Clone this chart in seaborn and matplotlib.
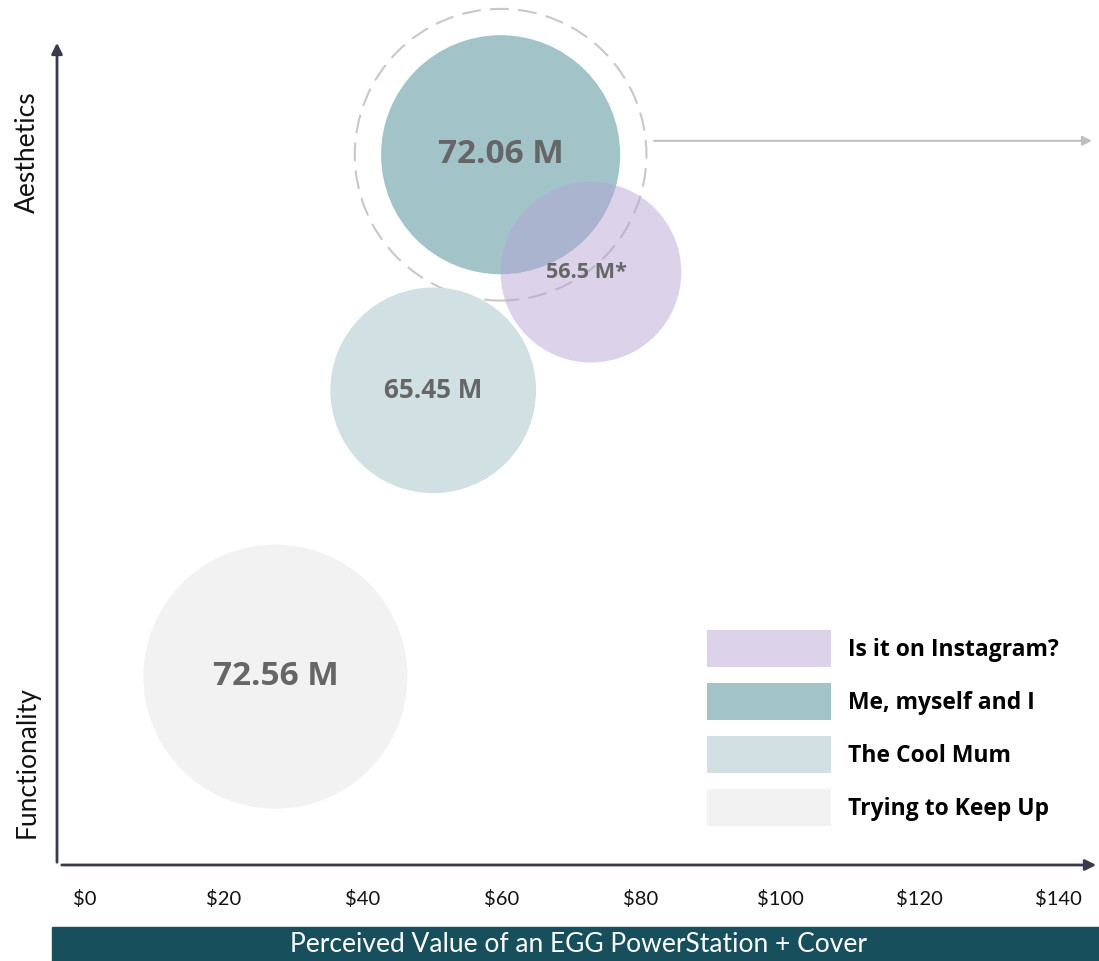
import numpy as np
import pandas as pd
import matplotlib.pyplot as plt
import seaborn as sns
from matplotlib.patches import Patch, Rectangle, Circle

# chart data (drawing order: back to front)
segments = ["Trying to Keep Up", "The Cool Mum", "Me, myself and I", "Is it on Instagram?"]
perceived_value = [27.4, 50.1, 59.8, 72.8]       # $ on the x axis
aesthetics_score = [27.1, 68.3, 102.2, 85.3]     # position between Functionality (low) and Aesthetics (high)
bubble_radius = [19.0, 14.8, 17.2, 13.0]         # bubble radius in axis units
population_labels = ["72.56 M", "65.45 M", "72.06 M", "56.5 M*"]

legend_order = ["Is it on Instagram?", "Me, myself and I", "The Cool Mum", "Trying to Keep Up"]
tick_values = [0, 20, 40, 60, 80, 100, 120, 140]
tick_labels = ["\\$0", "\\$20", "\\$40", "\\$60", "\\$80", "\\$100", "\\$120", "\\$140"]

colors = {
    "Trying to Keep Up": "#F2F2F2",
    "The Cool Mum": "#D0E0E3",
    "Me, myself and I": "#A2C4C9",
    "Is it on Instagram?": "#B6A3D5",
}
legend_colors = {
    "Trying to Keep Up": "#F2F2F2",
    "The Cool Mum": "#D0E0E3",
    "Me, myself and I": "#A2C4C9",
    "Is it on Instagram?": "#DCD3EB",
}
label_sizes = [24, 18.7, 24, 15.6]
label_dx = [0, 0, 0, -0.7]

sns.set_style("white")
plt.rcParams['font.family'] = ['Lato', 'DejaVu Sans']
bold_font = ['Open Sans', 'DejaVu Sans']

W, H, DPI = 1099, 961, 100
fig = plt.figure(figsize=(W / DPI, H / DPI), dpi=DPI)

# axes: bottom edge sits on the x axis line, $0 at px 85 and $140 at px 1058
axis_py = 865
ppu = (1058 - 85) / 140.0
ax = fig.add_axes([0, (H - axis_py) / H, 1, axis_py / H])
ax.set_xlim(-85 / ppu, (W - 85) / ppu)
ax.set_ylim(0, axis_py / ppu)
for s in ax.spines.values():
    s.set_visible(False)

df = pd.DataFrame({
    "segment": segments,
    "value": perceived_value,
    "aesthetics": aesthetics_score,
    "radius": bubble_radius,
})

# marker area in points^2 from radius in data units
px_per_unit = ax.transData.transform((1, 0))[0] - ax.transData.transform((0, 0))[0]
sizes = {seg: (2 * r * px_per_unit * 72 / DPI) ** 2 for seg, r in zip(segments, bubble_radius)}

sns.scatterplot(data=df, x="value", y="aesthetics", hue="segment", size="segment",
                palette=colors, sizes=sizes, linewidth=0, legend=False, ax=ax, zorder=2)
pts = ax.collections[0]
fc = pts.get_facecolors()
fc[segments.index("Is it on Instagram?"), 3] = 0.48
pts.set_facecolors(fc)
ax.set_xlabel("")
ax.set_ylabel("")

# highlight ring + arrow around "Me, myself and I"
me = segments.index("Me, myself and I")
mx, my, mr = perceived_value[me], aesthetics_score[me], bubble_radius[me]
ring_r = mr * 1.22
ax.add_patch(Circle((mx, my), ring_r, fill=False, ec="#C8C8C8", lw=1.5,
                    ls=(0, (9, 4.5)), zorder=1))
ax.annotate("", xy=(145.3, my + 2.0), xytext=(mx + ring_r + 0.7, my + 2.0),
            arrowprops=dict(arrowstyle="-|>", color="#BFBFBF", lw=1.5, mutation_scale=14),
            annotation_clip=False)

# bubble labels
for x, y, lab, fs, dx in zip(perceived_value, aesthetics_score, population_labels, label_sizes, label_dx):
    ax.text(x + dx, y, lab, ha="center", va="center", fontsize=fs, fontweight="bold",
            family=bold_font, color="#666666", zorder=5)

# axes arrows
axis_color = "#3A3A4E"
ax.annotate("", xy=(-28 / ppu, (axis_py - 40) / ppu), xytext=(-28 / ppu, 0),
            arrowprops=dict(arrowstyle="-|>", color=axis_color, lw=2, mutation_scale=16),
            annotation_clip=False)
ax.annotate("", xy=((1099 - 85) / ppu, 0), xytext=(-26 / ppu, 0),
            arrowprops=dict(arrowstyle="-|>", color=axis_color, lw=2, mutation_scale=16),
            annotation_clip=False)

ax.set_xticks(tick_values)
ax.set_xticklabels(tick_labels, fontsize=14.5, color="#111111")
ax.tick_params(axis="x", length=0, pad=18)
ax.set_yticks([])

fig.text(27 / W, 1 - 152 / H, "Aesthetics", rotation=90, ha="center", va="center",
         fontsize=19, color="#111111")
fig.text(27 / W, 1 - 762 / H, "Functionality", rotation=90, ha="center", va="center",
         fontsize=19, color="#111111")

# legend
handles = [Patch(facecolor=legend_colors[s], edgecolor="none", label=s) for s in legend_order]
fs_leg = 16.5
fs_px = fs_leg * DPI / 72
hh = (37 / fs_px - 0.245) / 0.65
leg = fig.legend(handles=handles, loc="upper left", bbox_to_anchor=(707 / W, 1 - 630 / H),
                 frameon=False, borderpad=0, borderaxespad=0,
                 handlelength=124 / fs_px, handleheight=hh,
                 labelspacing=16 / fs_px, handletextpad=17 / fs_px,
                 prop={"size": fs_leg, "weight": "bold", "family": bold_font})
for t in leg.get_texts():
    t.set_color("black")

# bottom title bar
fig.patches.append(Rectangle((52 / W, 0), (W - 52) / W, 34 / H, transform=fig.transFigure,
                             color="#17505C", zorder=0))
fig.text(578 / W, 17 / H, "Perceived Value of an EGG PowerStation + Cover",
         ha="center", va="center", fontsize=19, color="white")

fig.savefig("out.png", dpi=DPI)
